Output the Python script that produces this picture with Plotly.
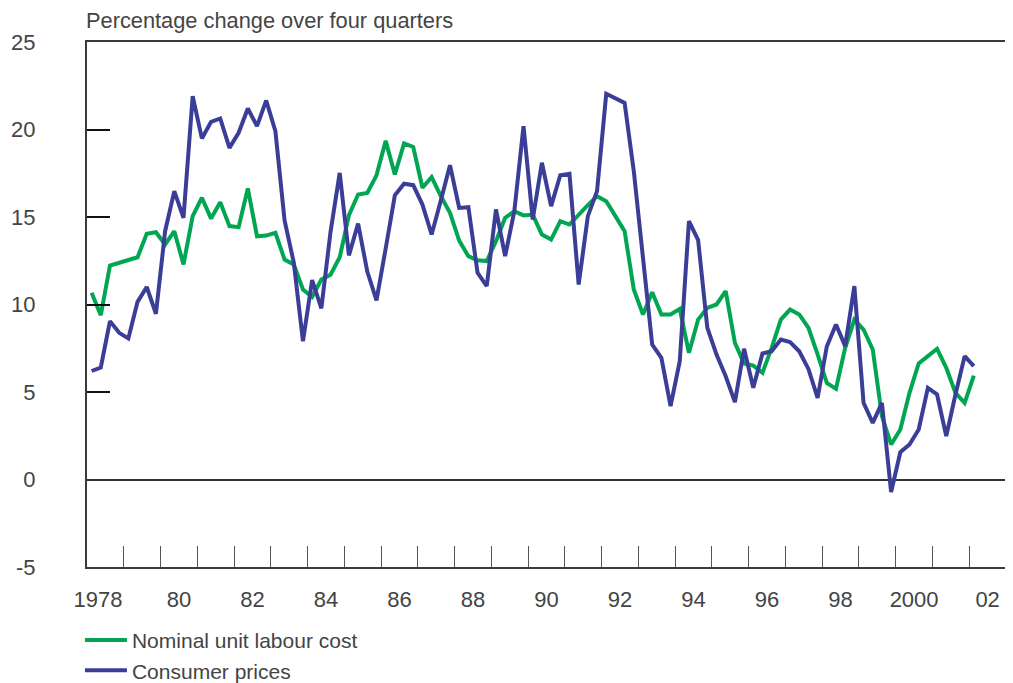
import plotly.graph_objects as go

start_year = 1978
year_tick_marks = list(range(1979, 2003))
x_label_pos = [1978.3, 1980.5, 1982.5, 1984.5, 1986.5, 1988.5, 1990.5, 1992.5,
               1994.5, 1996.5, 1998.5, 2000.5, 2002.5]
x_label_text = ["1978", "80", "82", "84", "86", "88", "90", "92", "94", "96",
                "98", "2000", "02"]
y_label_vals = [-5, 0, 5, 10, 15, 20, 25]
y_label_text = ["-5", "0", "5", "10", "15", "20", "25"]
y_tick_marks = [5, 10, 15, 20]

labour_cost = [10.67, 9.39, 12.23, 12.38, 12.57, 12.7, 14.04, 14.13, 13.43, 14.19,
               12.29, 15.05, 16.1, 14.91, 15.85, 14.48, 14.42, 16.63, 13.9, 13.94,
               14.1, 12.57, 12.29, 10.86, 10.43, 11.43, 11.7, 12.7, 15.1, 16.29,
               16.38, 17.38, 19.35, 17.43, 19.2, 19.0, 16.67, 17.28, 16.19, 15.24,
               13.65, 12.76, 12.53, 12.48, 13.62, 14.95, 15.33, 15.09, 15.14, 14.0,
               13.71, 14.76, 14.57, 15.14, 15.68, 16.19, 15.9, 15.05, 14.19, 10.86,
               9.43, 10.7, 9.43, 9.43, 9.75, 7.24, 9.14, 9.81, 10.0, 10.76,
               7.81, 6.63, 6.51, 6.1, 7.52, 9.14, 9.71, 9.43, 8.67, 7.15,
               5.52, 5.18, 7.52, 9.14, 8.57, 7.43, 3.62, 2.0, 2.86, 4.95,
               6.63, 7.05, 7.47, 6.38, 4.95, 4.38, 5.94]

consumer_prices = [6.2, 6.4, 9.05, 8.38, 8.06, 10.15, 11.0, 9.47, 14.19, 16.48,
                   14.95, 21.9, 19.49, 20.44, 20.63, 18.95, 19.81, 21.2, 20.19, 21.66,
                   19.9, 14.8, 12.4, 7.9, 11.4, 9.78, 14.15, 17.52, 12.81, 14.62,
                   11.88, 10.24, 13.2, 16.24, 16.9, 16.82, 15.71, 14.0, 15.94, 17.96,
                   15.52, 15.56, 11.81, 11.05, 15.43, 12.76, 15.33, 20.19, 14.86, 18.1,
                   15.62, 17.39, 17.47, 11.14, 15.05, 16.48, 22.04, 21.8, 21.52, 17.62,
                   12.4, 7.71, 6.95, 4.19, 6.76, 14.76, 13.68, 8.67, 7.14, 5.9,
                   4.42, 7.47, 5.24, 7.2, 7.33, 8.0, 7.85, 7.33, 6.32, 4.67,
                   7.6, 8.86, 7.62, 11.05, 4.38, 3.24, 4.38, -0.72, 1.56, 2.0,
                   2.86, 5.24, 4.86, 2.48, 4.86, 7.05, 6.48]

# quarterly observations plotted at mid-quarter
quarters = [start_year + (i + 0.5) / 4 for i in range(len(labour_cost))]

GREEN = "#00a651"
BLUE = "#3a3e97"
TEXT = "#444444"
FONT = "Liberation Sans, Arial, sans-serif"

fig = go.Figure()
fig.add_trace(go.Scatter(x=quarters, y=labour_cost, mode="lines",
                         name="Nominal unit labour cost",
                         line=dict(color=GREEN, width=4)))
fig.add_trace(go.Scatter(x=quarters, y=consumer_prices, mode="lines",
                         name="Consumer prices",
                         line=dict(color=BLUE, width=4)))

fig.update_layout(
    width=1005, height=675,
    margin=dict(l=79, r=7, t=34, b=116, autoexpand=False),
    paper_bgcolor="white", plot_bgcolor="white",
    font=dict(family=FONT, size=22, color=TEXT),
    showlegend=True,
    legend=dict(xref="container", yref="container", x=0.0716, y=0.0935,
                xanchor="left", yanchor="top",
                font=dict(size=21, color=TEXT), itemwidth=42,
                tracegroupgap=0, bgcolor="rgba(0,0,0,0)"),
    annotations=[dict(text="Percentage change over four quarters",
                      xref="paper", yref="paper", x=0, y=1.0,
                      xanchor="left", yanchor="bottom", yshift=7, xshift=-3,
                      showarrow=False, font=dict(size=21.8, color=TEXT))],
)

fig.update_xaxes(
    range=[1978, 2003], showgrid=False, zeroline=False, automargin=False,
    showline=True, linecolor="#3a3a3a", linewidth=2, mirror=True,
    tickmode="array", tickvals=x_label_pos, ticktext=x_label_text,
    ticks="", ticklabelstandoff=12,
    tickfont=dict(size=22, color=TEXT),
    minor=dict(tickmode="array", tickvals=year_tick_marks, ticks="inside",
               ticklen=21, tickwidth=1, tickcolor="#555555", showgrid=False),
)
fig.update_yaxes(
    range=[-5, 25], showgrid=False, automargin=False,
    zeroline=True, zerolinecolor="#333333", zerolinewidth=1.5,
    showline=True, linecolor="#3a3a3a", linewidth=2, mirror=True,
    tickmode="array", tickvals=y_label_vals, ticktext=y_label_text, ticks="",
    ticklabelstandoff=45,
    tickfont=dict(size=22, color=TEXT),
    minor=dict(tickmode="array", tickvals=y_tick_marks, ticks="inside",
               ticklen=23, tickwidth=2, tickcolor="#111111", showgrid=False),
)

fig.write_html("out.html")
